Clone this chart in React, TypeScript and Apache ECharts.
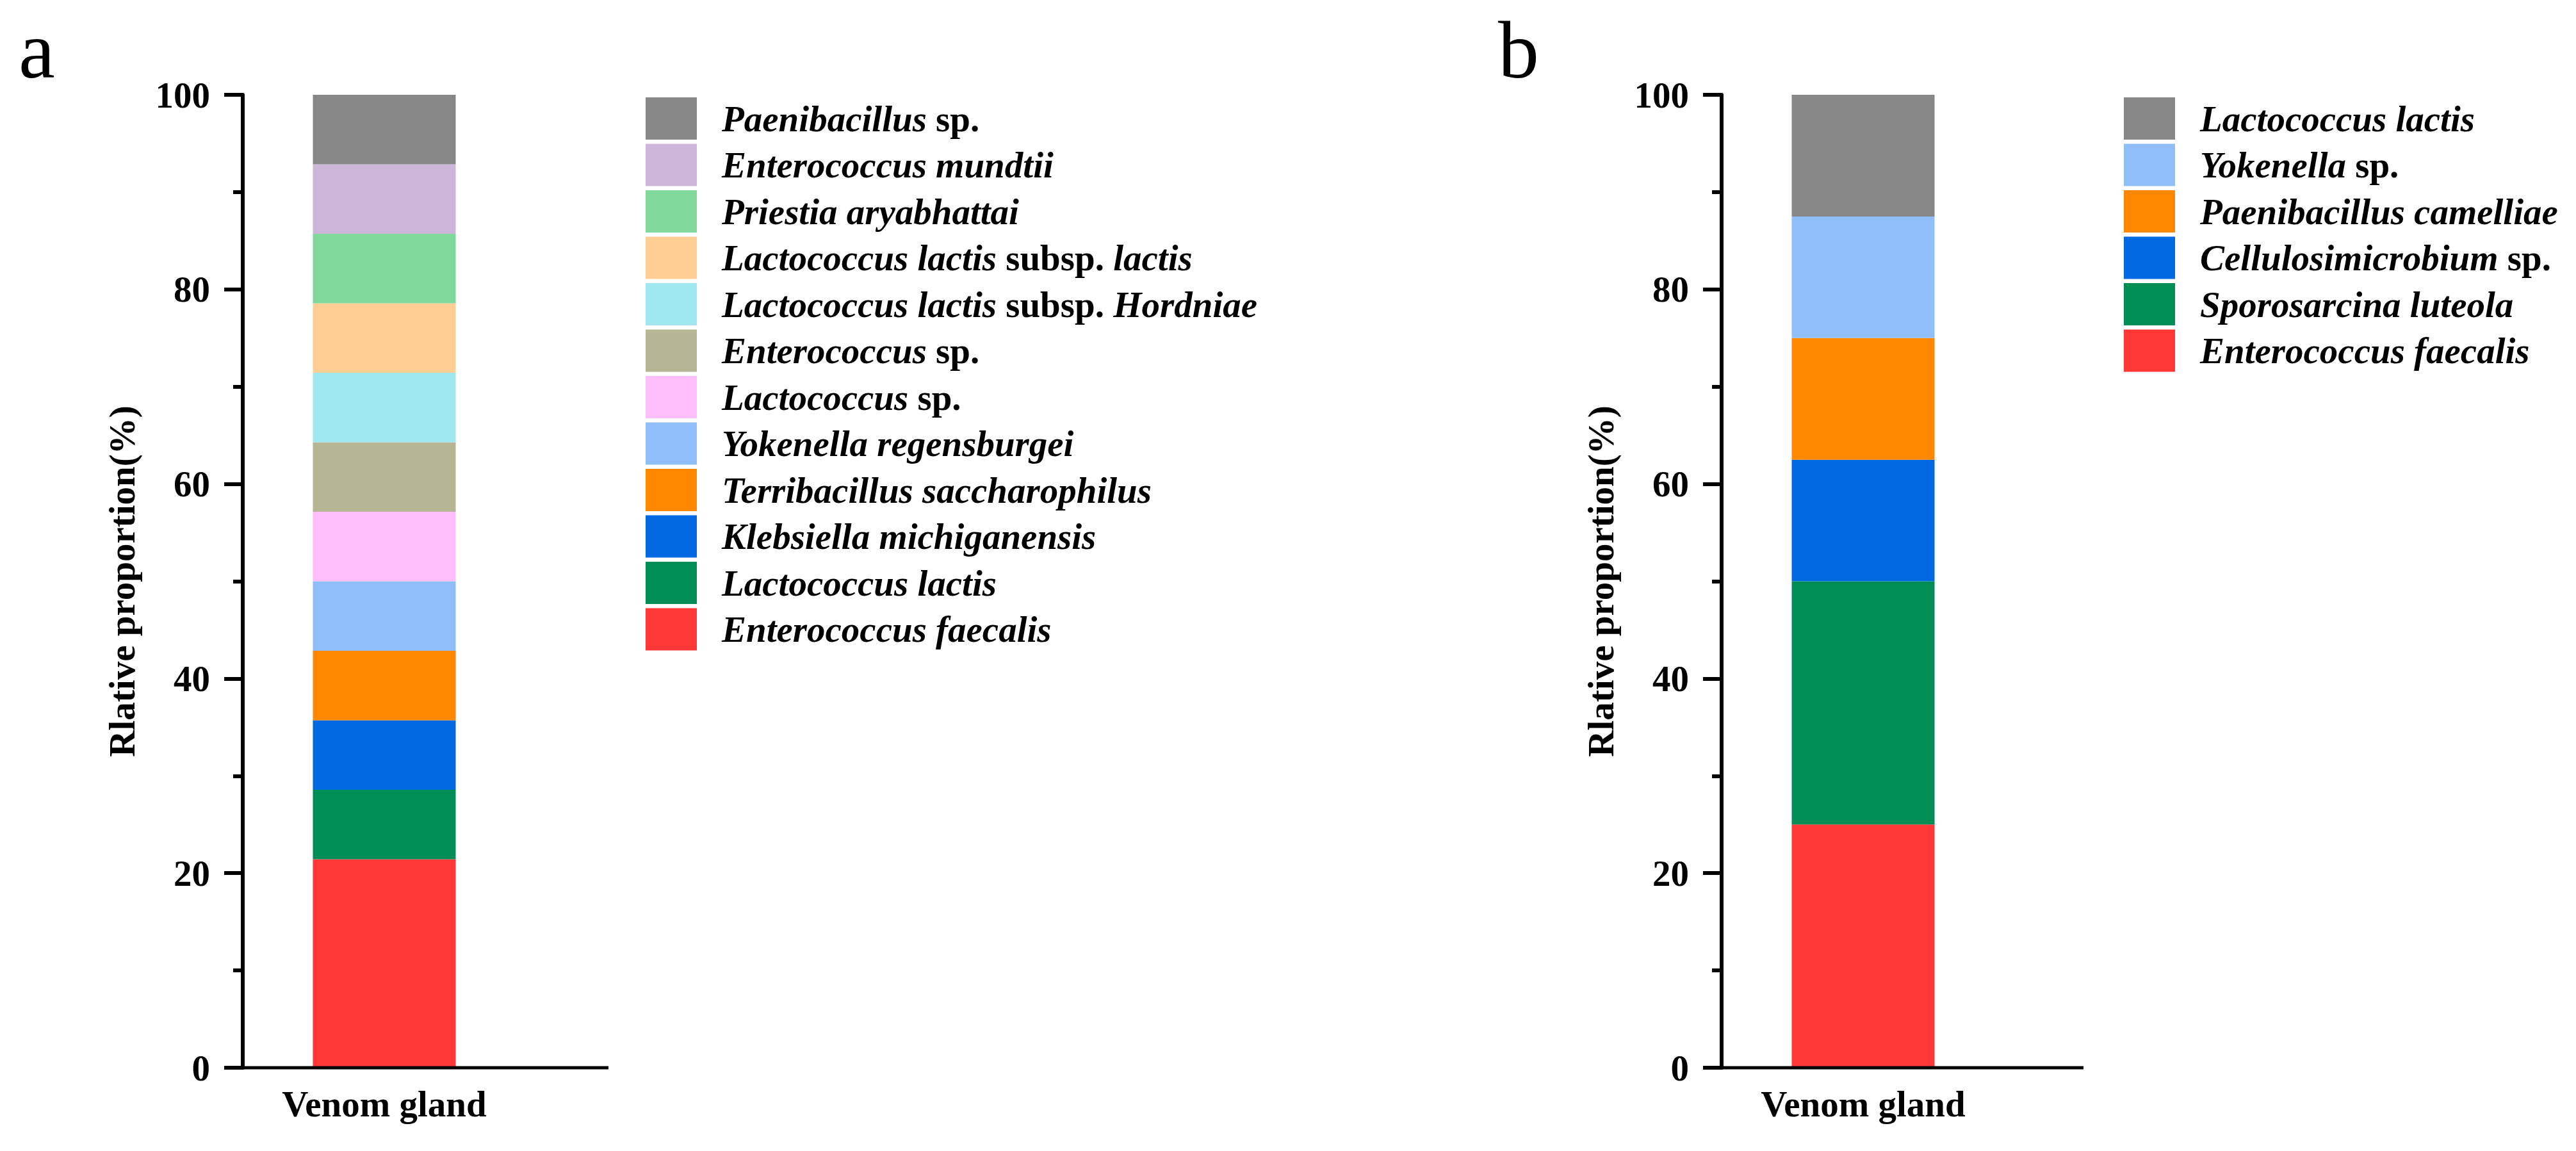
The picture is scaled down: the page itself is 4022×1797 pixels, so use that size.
import React, { useEffect, useRef } from "react";
import * as echarts from "echarts";

const FONT = "Liberation Serif";

const CATEGORY = ["Venom gland"];
const Y_MIN = 0;
const Y_MAX = 100;
const Y_INTERVAL = 20;
const Y_NAME = "Rlative proportion(%)";

// Panel a — listed bottom to top of the stacked bar
const A_NAMES = [
  "Enterococcus faecalis",
  "Lactococcus lactis",
  "Klebsiella michiganensis",
  "Terribacillus saccharophilus",
  "Yokenella regensburgei",
  "Lactococcus sp.",
  "Enterococcus sp.",
  "Lactococcus lactis subsp. Hordniae",
  "Lactococcus lactis subsp. lactis",
  "Priestia aryabhattai",
  "Enterococcus mundtii",
  "Paenibacillus sp.",
];
const A_VALUES = [21.43, 7.143, 7.143, 7.143, 7.143, 7.143, 7.143, 7.143, 7.143, 7.143, 7.143, 7.143];
const A_COLORS = [
  "#FF3737",
  "#008E56",
  "#0069E2",
  "#FF8800",
  "#8FBEF8",
  "#FEBEFC",
  "#B7B694",
  "#9FE8EF",
  "#FECF94",
  "#80D89B",
  "#CDB6D9",
  "#878787",
];

// Panel b — listed bottom to top of the stacked bar
const B_NAMES = [
  "Enterococcus faecalis",
  "Sporosarcina luteola",
  "Cellulosimicrobium sp.",
  "Paenibacillus camelliae",
  "Yokenella sp.",
  "Lactococcus lactis",
];
const B_VALUES = [25, 25, 12.5, 12.5, 12.5, 12.5];
const B_COLORS = ["#FF3737", "#008E56", "#0069E2", "#FF8800", "#8FBEF8", "#878787"];

const UPRIGHT_WORDS = ["sp.", "subsp."];

const PANEL_A = {
  names: A_NAMES,
  values: A_VALUES,
  colors: A_COLORS,
  letter: "a",
  letterX: 29,
  axisX: 379,
  axisEnd: 950,
  legendX: 1003,
};
const PANEL_B = {
  names: B_NAMES,
  values: B_VALUES,
  colors: B_COLORS,
  letter: "b",
  letterX: 328,
  axisX: 677,
  axisEnd: 1242,
  legendX: 1300,
};

const GRID_TOP = 148;
const GRID_H = 1519;
const GRID_W = 442;

function formatLegend(name: string) {
  return name
    .split(" ")
    .map((w) => (UPRIGHT_WORDS.includes(w) ? `{n|${w}}` : `{i|${w}}`))
    .join("{i| }");
}

function buildOption(p: any) {
  const textBase = {
    fontFamily: FONT,
    fontSize: 57,
    fontWeight: "bold",
    color: "#000",
  };
  return {
    animation: false,
    backgroundColor: "#ffffff",
    grid: { left: p.axisX, top: GRID_TOP, width: GRID_W, height: GRID_H },
    xAxis: {
      type: "category",
      data: CATEGORY,
      axisLine: { show: false },
      axisTick: { show: false },
      axisLabel: { ...textBase, margin: 28 },
    },
    yAxis: {
      type: "value",
      min: Y_MIN,
      max: Y_MAX,
      interval: Y_INTERVAL,
      name: Y_NAME,
      nameLocation: "middle",
      nameGap: 160,
      nameTextStyle: { ...textBase },
      axisLine: { show: true, lineStyle: { color: "#000", width: 6 } },
      axisTick: { show: true, length: 29, lineStyle: { color: "#000", width: 6 } },
      minorTick: { show: true, splitNumber: 2, length: 15, lineStyle: { color: "#000", width: 6 } },
      splitLine: { show: false },
      minorSplitLine: { show: false },
      axisLabel: { ...textBase, margin: 51 },
    },
    legend: {
      data: [...p.names].reverse(),
      orient: "vertical",
      left: p.legendX,
      top: 147,
      icon: "rect",
      itemWidth: 80,
      itemHeight: 66,
      itemGap: 6.5,
      selectedMode: false,
      formatter: formatLegend,
      textStyle: {
        ...textBase,
        fontStyle: "italic",
        padding: [0, 0, 0, 34],
        rich: {
          i: { ...textBase, fontStyle: "italic" },
          n: { ...textBase, fontStyle: "normal" },
        },
      },
    },
    graphic: [
      {
        type: "line",
        z: 100,
        shape: { x1: p.axisX, y1: GRID_TOP + GRID_H, x2: p.axisEnd, y2: GRID_TOP + GRID_H },
        style: { stroke: "#000", lineWidth: 5 },
      },
      {
        type: "text",
        x: p.letterX,
        y: 78,
        style: {
          text: p.letter,
          fill: "#000",
          fontFamily: FONT,
          fontSize: 128,
          fontWeight: "normal",
          textAlign: "left",
          textVerticalAlign: "middle",
          align: "left",
          verticalAlign: "middle",
        },
      },
    ],
    series: p.names.map((n: string, i: number) => ({
      type: "bar",
      name: n,
      stack: "total",
      data: [p.values[i]],
      barWidth: 223,
      itemStyle: { color: p.colors[i] },
    })),
  };
}

export default function App() {
  const refA = useRef<HTMLDivElement>(null);
  const refB = useRef<HTMLDivElement>(null);
  useEffect(() => {
    const ca = echarts.init(refA.current as HTMLDivElement, null, { renderer: "svg" });
    const cb = echarts.init(refB.current as HTMLDivElement, null, { renderer: "svg" });
    ca.setOption(buildOption(PANEL_A) as any);
    cb.setOption(buildOption(PANEL_B) as any);
    return () => {
      ca.dispose();
      cb.dispose();
    };
  }, []);
  return (
    <div style={{ position: "absolute", left: 0, top: 0, width: 4022, height: 1797, background: "#fff" }}>
      <div ref={refA} style={{ position: "absolute", left: 0, top: 0, width: 2011, height: 1797 }} />
      <div ref={refB} style={{ position: "absolute", left: 2011, top: 0, width: 2011, height: 1797 }} />
    </div>
  );
}
